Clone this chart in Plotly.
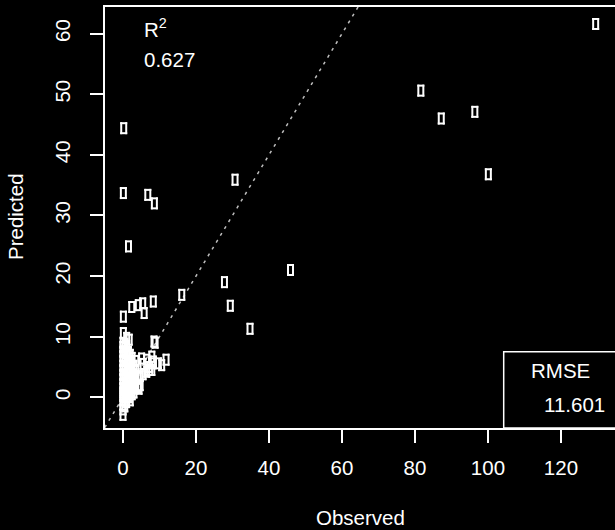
import plotly.graph_objects as go

# Observed / Predicted values
observed = [
    129.5, 81.6, 87.2, 96.4, 100.1,
    30.7, 45.9, 27.8, 29.4, 34.8, 16.1,
    0.2, 0.1, 6.8, 8.6, 1.5,
    8.3, 5.4, 4.2, 2.4, 5.8, 0.1,
    0.0, 0.0, 0.0, 0.0, 0.0, 0.0, 0.0, 0.0, 0.0, 0.0, 0.0, 0.0, 0.0, 0.0, 0.0, 0.0, 0.0, 0.1,
    0.5, 0.5, 0.5, 0.5, 0.5, 0.5, 0.5, 0.5, 0.5,
    1.0, 1.0, 1.0, 1.0, 1.0, 1.0, 1.0, 1.0, 1.0,
    1.5, 1.5, 1.5, 1.5, 1.5, 1.5, 1.7,
    2.0, 2.0, 2.0, 2.0, 2.0, 2.0,
    2.5, 2.5, 2.5, 2.5, 2.5,
    3.0, 3.0, 3.0, 3.0,
    3.5, 3.5, 3.5, 3.5,
    4.2, 4.2, 4.4,
    4.7, 4.7, 5.1,
    5.5, 5.5,
    6.5, 6.5,
    7.3, 7.3, 7.9,
    7.9, 7.9,
    8.3, 8.8, 8.5, 9.7, 10.6, 11.8,
]
predicted = [
    61.6, 50.6, 46.0, 47.1, 36.8,
    35.9, 21.0, 19.0, 15.1, 11.3, 16.9,
    44.4, 33.7, 33.4, 32.0, 24.9,
    15.8, 15.5, 15.2, 14.9, 13.9, 13.3,
    -2.9, -2.0, -1.2, -0.5, 0.2, 0.8, 1.5, 2.2, 3.0, 3.7, 4.5, 5.2, 6.0, 6.8, 7.5, 8.3, 9.0, 10.6,
    -1.5, 0.0, 1.2, 2.5, 3.8, 5.0, 6.3, 7.6, 8.8,
    -0.8, 0.5, 1.8, 3.2, 4.6, 6.0, 7.3, 8.5, 9.8,
    0.0, 1.5, 3.0, 4.5, 6.0, 7.5, 9.5,
    -0.5, 1.0, 2.5, 4.0, 5.5, 7.0,
    0.5, 2.0, 3.5, 5.0, 6.5,
    0.8, 2.2, 3.8, 5.2,
    1.5, 3.0, 4.5, 6.0,
    1.7, 3.2, 1.4,
    2.0, 3.5, 6.4,
    3.8, 5.5,
    4.2, 6.2,
    4.5, 5.0, 6.7,
    4.5, 5.6,
    5.9, 9.0, 9.2, 5.6, 5.3, 6.2,
]

line_vals = [-5, 70]
x_ticks = [0, 20, 40, 60, 80, 100, 120]
y_ticks = [0, 10, 20, 30, 40, 50, 60]
r2_label = "0.627"
rmse_label = "11.601"

FONT = "Liberation Sans, Arial, sans-serif"
W, H = 615, 530
L, T, B, R = 105, 7, 102, 0
PW, PH = W - L - R, H - T - B
XR = [-4.93, 134.8]
YR = [-5.07, 64.4]

def px(xp):
    return (xp - L) / PW

def py(yp):
    return (H - B - yp) / PH

# glyph geometry (tall open rectangle, like R's plotting symbol)
GW, GH, STROKE = 7, 12, 2
LINE_K = 1.4  # plotly line-ns / line-ew length = 1.4 * marker size
dx = (GW / 2 - STROKE / 2) * (XR[1] - XR[0]) / PW
dy = (GH / 2 - STROKE / 2) * (YR[1] - YR[0]) / PH

fig = go.Figure()

fig.add_trace(go.Scatter(
    x=line_vals, y=line_vals, mode="lines",
    line=dict(color="#BEBEBE", width=1.5, dash="3px,5px"),
    hoverinfo="skip", showlegend=False,
))

# vertical sides
fig.add_trace(go.Scatter(
    x=[o - dx for o in observed] + [o + dx for o in observed],
    y=predicted + predicted,
    mode="markers",
    marker=dict(symbol="line-ns", size=GH / LINE_K, line=dict(color="white", width=STROKE)),
    hoverinfo="skip", showlegend=False,
))
# top / bottom edges
fig.add_trace(go.Scatter(
    x=observed + observed,
    y=[p + dy for p in predicted] + [p - dy for p in predicted],
    mode="markers",
    marker=dict(symbol="line-ew", size=GW / LINE_K, line=dict(color="white", width=STROKE)),
    hoverinfo="skip", showlegend=False,
))

axis_common = dict(
    showgrid=False, zeroline=False, showline=True, linecolor="white", linewidth=1.5,
    ticks="outside", ticklen=13, tickwidth=1.5, tickcolor="white",
    tickfont=dict(family=FONT, size=20.5, color="white"),
)

fig.update_xaxes(
    range=XR, tickvals=x_ticks, mirror=True,
    ticklabelstandoff=8, **axis_common,
)
fig.update_yaxes(
    range=YR, tickvals=y_ticks, tickangle=-90, mirror=False,
    ticklabelstandoff=12, **axis_common,
)

annotations = [
    dict(text="Observed", x=0.5, y=py(517.5), xref="paper", yref="paper",
         xanchor="center", yanchor="middle", showarrow=False,
         font=dict(family=FONT, size=20.5, color="white")),
    dict(text="Predicted", x=px(15), y=py(217), xref="paper", yref="paper",
         xanchor="center", yanchor="middle", showarrow=False, textangle=-90,
         font=dict(family=FONT, size=20.5, color="white")),
    dict(text="R<sup>2</sup>", x=px(142), y=py(28), xref="paper", yref="paper",
         xanchor="left", yanchor="middle", showarrow=False,
         font=dict(family=FONT, size=20.5, color="white")),
    dict(text=r2_label, x=px(141.5), y=py(59.5), xref="paper", yref="paper",
         xanchor="left", yanchor="middle", showarrow=False,
         font=dict(family=FONT, size=20.5, color="white")),
    dict(text="RMSE", x=px(529), y=py(370), xref="paper", yref="paper",
         xanchor="left", yanchor="middle", showarrow=False,
         font=dict(family=FONT, size=20.5, color="white")),
    dict(text=rmse_label, x=px(542), y=py(404), xref="paper", yref="paper",
         xanchor="left", yanchor="middle", showarrow=False,
         font=dict(family=FONT, size=20.5, color="white")),
]

fig.update_layout(
    width=W, height=H,
    margin=dict(l=L, r=R, t=T, b=B, pad=0),
    paper_bgcolor="black", plot_bgcolor="black",
    annotations=annotations,
    shapes=[dict(type="rect", xref="paper", yref="paper",
                 x0=px(503.7), x1=1.02, y0=0, y1=py(351.7),
                 line=dict(color="white", width=1.5), layer="above")],
    showlegend=False,
)

fig.write_html(
    "out.html",
    config={"displayModeBar": False},
    post_script="document.body.style.margin='0';document.body.style.background='black';document.body.style.overflow='hidden';",
)
